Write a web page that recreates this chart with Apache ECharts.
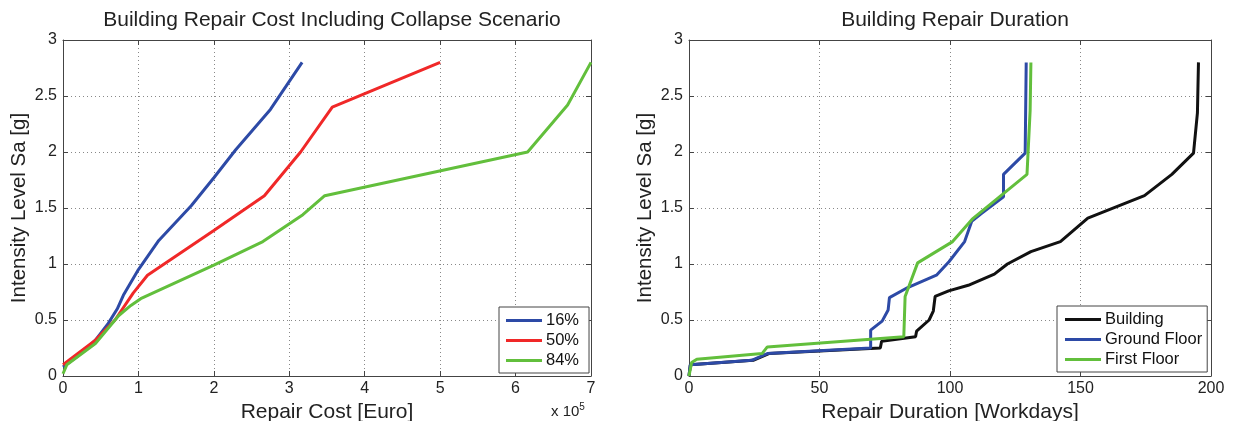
<!DOCTYPE html>
<html><head><meta charset="utf-8">
<script src="https://cdn.jsdelivr.net/npm/echarts@6/dist/echarts.min.js"></script>
<style>html,body{margin:0;padding:0;background:#fff}#c{width:1235px;height:421px}</style>
</head><body><div id="c"></div>
<script>
// Left chart: repair cost (x in 1e5 Euro) vs intensity Sa [g]
const cost16 = [[0,0.08],[0.2,0.18],[0.43,0.32],[0.6,0.47],[0.72,0.6],[0.8,0.72],[1.0,0.95],[1.27,1.21],[1.7,1.52],[2.0,1.77],[2.29,2.02],[2.75,2.38],[3.17,2.8]];
const cost50 = [[0,0.1],[0.43,0.32],[0.69,0.5],[0.93,0.74],[1.12,0.9],[2.0,1.3],[2.67,1.61],[3.15,2.0],[3.57,2.4],[5.0,2.8]];
const cost84 = [[0,0.02],[0.05,0.1],[0.43,0.29],[0.74,0.54],[0.9,0.63],[1.03,0.69],[2.0,0.99],[2.65,1.2],[3.18,1.44],[3.47,1.61],[6.16,2.0],[6.69,2.42],[7.0,2.8]];
// Right chart: repair duration (workdays) vs intensity Sa [g]
const durBuilding = [[0,0],[0.5,0.1],[24.6,0.14],[30.6,0.2],[73.3,0.25],[73.8,0.31],[86.8,0.35],[87.2,0.4],[92,0.5],[93.6,0.58],[94.3,0.71],[99.5,0.76],[107,0.81],[117,0.91],[122,1.0],[131,1.11],[142.3,1.2],[152.8,1.41],[174.5,1.61],[185,1.8],[193.3,1.99],[194.8,2.35],[195.2,2.8]];
const durGround = [[0,0],[0.5,0.1],[24,0.14],[30,0.2],[69.6,0.25],[69.6,0.41],[74,0.49],[76.3,0.59],[76.8,0.7],[83.8,0.79],[94.8,0.9],[99.6,1.02],[105.6,1.2],[108.3,1.38],[112,1.45],[120.5,1.6],[120.5,1.8],[128.8,1.99],[129.2,2.8]];
const durFirst = [[0,0],[1,0.12],[3,0.15],[28,0.2],[30,0.26],[82.3,0.35],[82.8,0.71],[87.6,1.01],[101,1.2],[108.5,1.4],[129.5,1.8],[130.7,2.37],[131,2.8]];
const costTicks = [0,1,2,3,4,5,6,7];
const durTicks = [0,50,100,150,200];
const saTicks = [0,0.5,1,1.5,2,2.5,3];

const FONT = '"Liberation Sans", Arial, sans-serif';
const C_BLUE = '#2d4aa6', C_RED = '#f02828', C_GREEN = '#62bf3c', C_BLACK = '#111111';

function xAx(gi, min, max, interval, name, pos, showLbl) {
  return {
    type: 'value', gridIndex: gi, min, max, interval, position: pos,
    name: showLbl ? name : '', nameLocation: 'middle', nameGap: 20,
    nameTextStyle: {fontFamily: FONT, fontSize: 21, color: '#222'},
    axisLine: {show: true, onZero: false, lineStyle: {color: '#444', width: 1}},
    axisTick: {show: true, inside: true, length: 5, lineStyle: {color: '#444'}},
    axisLabel: {show: showLbl, fontFamily: FONT, fontSize: 16, color: '#222', margin: 5},
    splitLine: {show: showLbl, lineStyle: {type: [1, 3], color: '#888', width: 1}}
  };
}
function yAx(gi, name, pos, showLbl) {
  return {
    type: 'value', gridIndex: gi, min: 0, max: 3, interval: 0.5, position: pos,
    name: showLbl ? name : '', nameLocation: 'middle', nameGap: 33, nameRotate: 90,
    nameTextStyle: {fontFamily: FONT, fontSize: 20.5, color: '#222'},
    axisLine: {show: true, onZero: false, lineStyle: {color: '#444', width: 1}},
    axisTick: {show: true, inside: true, length: 5, lineStyle: {color: '#444'}},
    axisLabel: {show: showLbl, fontFamily: FONT, fontSize: 16, color: '#222', margin: 6},
    splitLine: {show: showLbl, lineStyle: {type: [1, 3], color: '#888', width: 1}}
  };
}
function line(name, data, color, xi, yi) {
  return {type: 'line', name, data, xAxisIndex: xi, yAxisIndex: yi, symbol: 'none',
    lineStyle: {color, width: 3}, itemStyle: {color}, animation: false, z: 3};
}
const legendCommon = {
  orient: 'vertical', borderColor: '#444', borderWidth: 1, backgroundColor: '#fff',
  icon: 'rect', itemWidth: 36, itemHeight: 3, itemGap: 3,
  textStyle: {fontFamily: FONT, fontSize: 16.5, color: '#111', padding: [0, 0, 0, -1]}
};
const chart = echarts.init(document.getElementById('c'), null, {renderer: 'canvas'});
chart.setOption({
  animation: false,
  backgroundColor: '#fff',
  title: [
    {text: 'Building Repair Cost Including Collapse Scenario', left: 327, top: 5, textAlign: 'center',
     textStyle: {fontFamily: FONT, fontSize: 21, fontWeight: 'normal', color: '#222'}},
    {text: 'Building Repair Duration', left: 950, top: 5, textAlign: 'center',
     textStyle: {fontFamily: FONT, fontSize: 21, fontWeight: 'normal', color: '#222'}}
  ],
  grid: [
    {left: 63, right: 644, top: 40, bottom: 45, show: false, containLabel: false, outerBoundsMode: 'none'},
    {left: 689, right: 24, top: 40, bottom: 45, show: false, containLabel: false, outerBoundsMode: 'none'}
  ],
  xAxis: [
    xAx(0, 0, 7, 1, 'Repair Cost [Euro]', 'bottom', true),
    xAx(0, 0, 7, 1, '', 'top', false),
    xAx(1, 0, 200, 50, 'Repair Duration [Workdays]', 'bottom', true),
    xAx(1, 0, 200, 50, '', 'top', false)
  ],
  yAxis: [
    yAx(0, 'Intensity Level Sa [g]', 'left', true),
    yAx(0, '', 'right', false),
    yAx(1, 'Intensity Level Sa [g]', 'left', true),
    yAx(1, '', 'right', false)
  ],
  legend: [
    Object.assign({}, legendCommon, {left: 499, top: 307, padding: [5, 10, 4, 7], data: ['16%', '50%', '84%']}),
    Object.assign({}, legendCommon, {left: 1057, top: 306, padding: [5, 5, 4, 8], data: ['Building', 'Ground Floor', 'First Floor']})
  ],
  series: [
    line('16%', cost16, C_BLUE, 0, 0),
    line('50%', cost50, C_RED, 0, 0),
    line('84%', cost84, C_GREEN, 0, 0),
    line('Building', durBuilding, C_BLACK, 2, 2),
    line('Ground Floor', durGround, C_BLUE, 2, 2),
    line('First Floor', durFirst, C_GREEN, 2, 2)
  ],
  graphic: [{
    type: 'text', left: 551, top: 402,
    style: {
      text: 'x 10{s|5}', fontFamily: FONT, fontSize: 15, fill: '#222',
      rich: {s: {fontSize: 10, verticalAlign: 'top', padding: [0, 0, 10, 0], fontFamily: FONT, fill: '#222'}}
    }
  }]
});
</script></body></html>
